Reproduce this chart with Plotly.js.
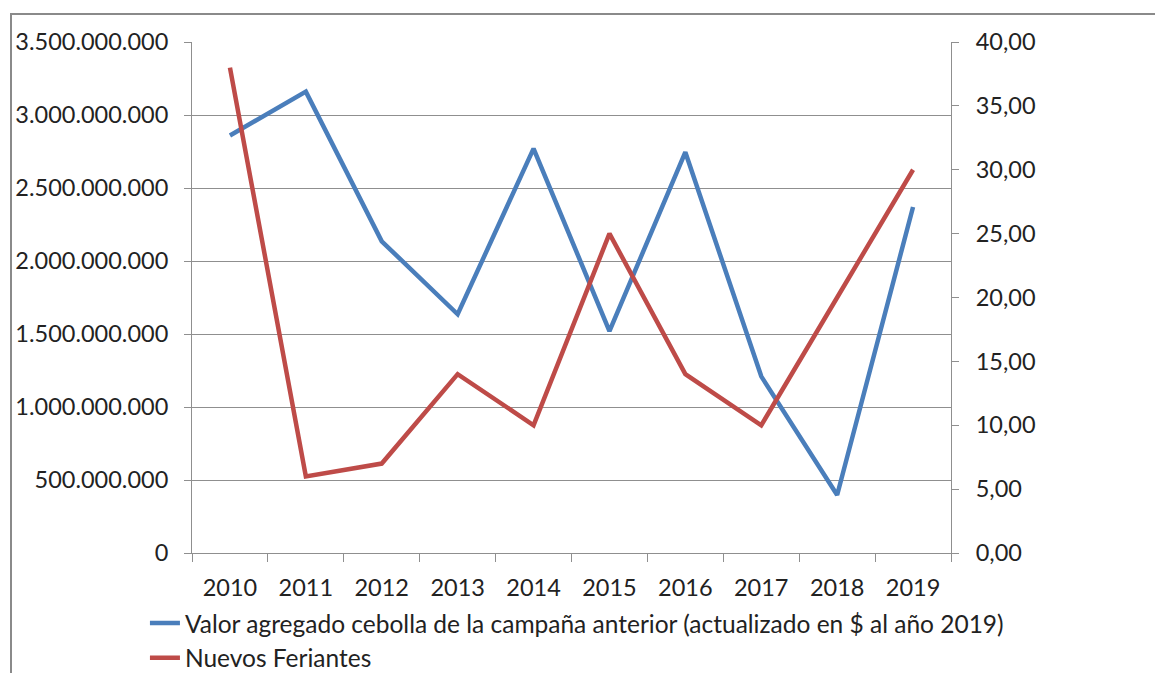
<!DOCTYPE html>
<html><head><meta charset="utf-8">
<script src="https://cdn.plot.ly/plotly-3.0.1.min.js"></script>
<style>
html,body{margin:0;padding:0;background:#fff;}
#wrap{position:relative;width:1155px;height:673px;}
#chart{position:absolute;left:0;top:0;width:1155px;height:673px;}
#frame{position:absolute;left:10px;top:13px;width:1160px;height:700px;border-top:2px solid #8a8a8a;border-left:2px solid #8a8a8a;pointer-events:none;}
</style></head>
<body>
<div id="wrap"><div id="chart"></div><div id="frame"></div></div>
<script>
const years = ['2010','2011','2012','2013','2014','2015','2016','2017','2018','2019'];
const valorAgregado = [2860000000, 3160000000, 2135000000, 1635000000, 2770000000, 1520000000, 2745000000, 1210000000, 397000000, 2370000000];
const nuevosFeriantes = [38, 6, 7, 14, 10, 25, 14, 10, 20, 30];
const seriesNames = ['Valor agregado cebolla de la campaña anterior (actualizado en $ al año 2019)', 'Nuevos Feriantes'];

const font = {family: 'Lato, "Open Sans", sans-serif', size: 23.5, color: '#222'};
const legendFont = {family: 'Lato, "Open Sans", sans-serif', size: 24.5, color: '#222'};
const grid = '#8f8f8f';

const traces = [
  {x: years, y: valorAgregado, name: seriesNames[0], type: 'scatter', mode: 'lines',
   line: {color: '#4a7ebb', width: 4.5}, yaxis: 'y'},
  {x: years, y: nuevosFeriantes, name: seriesNames[1], type: 'scatter', mode: 'lines',
   line: {color: '#be4b48', width: 4.5}, yaxis: 'y2'}
];

const layout = {
  width: 1155, height: 673,
  margin: {l: 192, r: 204, t: 42, b: 120, autoexpand: false},
  paper_bgcolor: '#fff', plot_bgcolor: '#fff',
  font: font,
  separators: ',.',
  showlegend: true,
  legend: {x: -0.062, xanchor: 'left', y: -0.093, yanchor: 'top', orientation: 'v',
           font: legendFont, bgcolor: 'rgba(0,0,0,0)', tracegroupgap: 0},
  xaxis: {type: 'category', range: [-0.5, 9.5], tickson: 'boundaries', ticks: 'outside',
          ticklen: 8, tickcolor: grid, showline: true, linecolor: grid, linewidth: 1,
          showgrid: false, zeroline: false, tickfont: font, fixedrange: true,
          ticklabelstandoff: 14},
  yaxis: {range: [0, 3500000000], dtick: 500000000, tickformat: ',d', ticks: 'outside',
          ticklen: 7, tickcolor: grid, showline: true, linecolor: grid, showgrid: true,
          gridcolor: grid, gridwidth: 1, zeroline: false, tickfont: font,
          ticklabelstandoff: 11},
  yaxis2: {range: [0, 40], dtick: 5, tickformat: '.2f', overlaying: 'y', side: 'right',
           ticks: 'outside', ticklen: 7, tickcolor: grid, showline: true, linecolor: grid,
           showgrid: false, zeroline: false, tickfont: font, ticklabelstandoff: 12}
};

Plotly.newPlot('chart', traces, layout, {displayModeBar: false, staticPlot: true});
</script>
</body></html>
